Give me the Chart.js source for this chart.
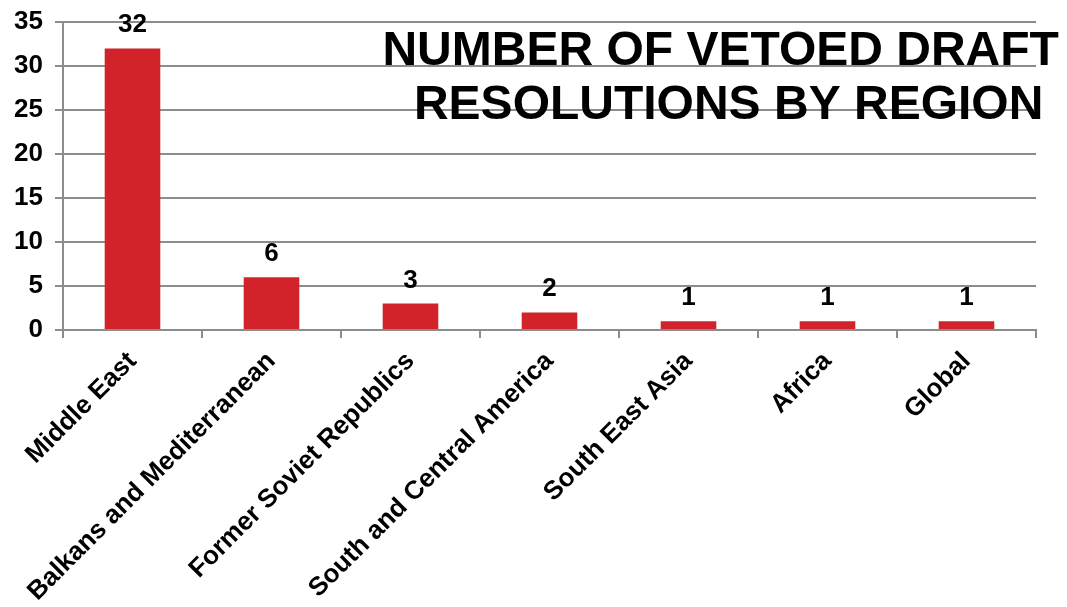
<!DOCTYPE html>
<html>
<head>
<meta charset="utf-8">
<script src="https://cdn.jsdelivr.net/npm/chart.js@4/dist/chart.umd.min.js"></script>
<style>
html,body{margin:0;padding:0;background:#fff;}
#wrap{width:1067px;height:607px;position:relative;}
</style>
</head>
<body>
<div id="wrap"><canvas id="c" width="1067" height="607"></canvas></div>
<script>
const categories = ["Middle East","Balkans and Mediterranean","Former Soviet Republics","South and Central America","South East Asia","Africa","Global"];
const vetoes = [32,6,3,2,1,1,1];
const titleLines = ["NUMBER OF VETOED DRAFT","RESOLUTIONS BY REGION"];
const yMax = 35, yStep = 5;

const FONT = "'Liberation Sans', Arial, sans-serif";

const labelPlugin = {
  id: 'valueLabels',
  afterDatasetsDraw(chart) {
    const ctx = chart.ctx;
    const meta = chart.getDatasetMeta(0);
    ctx.save();
    ctx.font = "bold 26px " + FONT;
    ctx.fillStyle = "#000";
    ctx.textAlign = "center";
    ctx.textBaseline = "alphabetic";
    meta.data.forEach((bar, i) => {
      ctx.fillText(String(vetoes[i]), bar.x, bar.y - 16);
    });
    ctx.restore();
  }
};

const titlePlugin = {
  id: 'insideTitle',
  afterDraw(chart) {
    const ctx = chart.ctx;
    const a = chart.chartArea;
    ctx.save();
    ctx.font = "bold 48px " + FONT;
    ctx.fillStyle = "#000";
    ctx.textAlign = "center";
    ctx.textBaseline = "middle";
    const cx = a.left + (a.right - a.left) * 0.68;
    ctx.fillText(titleLines[0], cx - 4, a.top + 30);
    ctx.fillText(titleLines[1], cx + 4, a.top + 84);
    ctx.restore();
  }
};

new Chart(document.getElementById('c'), {
  type: 'bar',
  data: {
    labels: categories,
    datasets: [{
      data: vetoes,
      backgroundColor: '#D2232A',
      borderWidth: 0,
      barPercentage: 0.8,
      categoryPercentage: 0.5
    }]
  },
  options: {
    responsive: false,
    animation: false,
    devicePixelRatio: 1,
    layout: { padding: { top: 22, right: 31, left: 0, bottom: 0 } },
    plugins: { legend: { display: false }, tooltip: { enabled: false }, title: { display: false } },
    scales: {
      y: {
        min: 0, max: yMax,
        ticks: { stepSize: yStep, color: '#000', font: { family: FONT, size: 26, weight: 'bold' }, padding: 12 },
        grid: { color: '#8c8c8c', lineWidth: 2, tickLength: 8, drawTicks: true },
        border: { color: '#8c8c8c', width: 2 },
        afterFit(s) { s.width = 63; s.paddingTop = 0; s.paddingBottom = 0; }
      },
      x: {
        ticks: { color: '#000', font: { family: FONT, size: 26, weight: 'bold' }, maxRotation: 45, minRotation: 45, padding: 8, autoSkip: false },
        grid: { display: true, drawOnChartArea: false, color: '#8c8c8c', lineWidth: 2, tickLength: 8, offset: true },
        border: { color: '#8c8c8c', width: 2 },
        afterFit(s) { s.height = 277; }
      }
    }
  },
  plugins: [labelPlugin, titlePlugin]
});
</script>
</body>
</html>
